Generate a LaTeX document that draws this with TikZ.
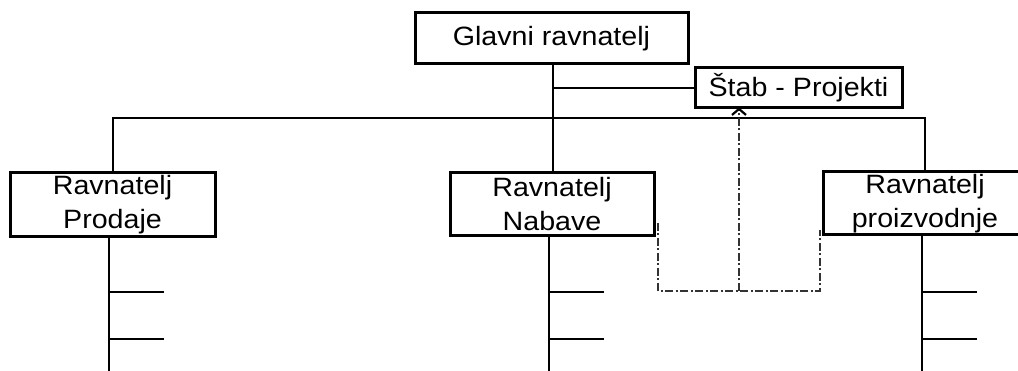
\documentclass[tikz,border=0pt]{standalone}
\usepackage{fontspec}
\setmainfont[FakeStretch=1.08]{Liberation Sans}
\usetikzlibrary{arrows.meta}
\begin{document}
\begin{tikzpicture}[x=1pt,y=-1pt,
  box/.style={draw,line width=3pt,rectangle,inner sep=0pt,align=center,
    font=\fontsize{26.5}{34}\selectfont},
  link/.style={line width=1.8pt},
  tick/.style={line width=2.8pt},
  staff/.style={line width=1.6pt,draw=black!80,
    dash pattern=on 8pt off 2.5pt on 2pt off 2.5pt}]
\useasboundingbox (0,0) rectangle (1018,371);
\clip (0,0) rectangle (1018,371);
\fill[white] (0,0) rectangle (1018,371);

% boxes
\node[box,minimum width=273pt,minimum height=51pt] (glavni) at (551.5,38.5) {Glavni ravnatelj};
\node[box,minimum width=207pt,minimum height=40pt] (stab) at (798.5,88) {Štab - Projekti};
\node[box,minimum width=205pt,minimum height=64pt] (prodaja) at (112.5,205) {Ravnatelj\\Prodaje};
\node[box,minimum width=204pt,minimum height=63pt] (nabava) at (552,204.5) {Ravnatelj\\Nabave};
\node[box,minimum width=204pt,minimum height=63pt] (proiz) at (925,203.5) {Ravnatelj\\proizvodnje};

% main hierarchy
\coordinate (hub) at (553,118);
\coordinate (lt) at (113,118);
\coordinate (rt) at (925,118);
\draw[link] (glavni.south -| hub) -- (nabava.north -| hub);
\draw[link] (553,88) -- (stab.west);
\draw[link] (prodaja.north -| lt) -- (lt) -- (rt) -- (proiz.north -| rt);

% lower levels with branches
\foreach \b/\x/\w in {prodaja/109/1.8pt, nabava/549/2.6pt, proiz/922/1.8pt}{
  \coordinate (\b-end) at (\x,371);
  \draw[line width=\w] (\b.south -| \b-end) -- (\b-end);
  \draw[tick] (\x,292) -- ++(55,0);
  \draw[tick] (\x,339) -- ++(55,0);
}

% staff link to the projects office
\coordinate (sl) at (658,223);
\coordinate (sr) at (820,230);
\coordinate (sm) at (739,291);
\draw[staff,line width=2.2pt] (sl) -- (658,291) -- (820,291) -- (sr);
\draw[staff,-{Straight Barb[length=6pt,width=14pt,line width=2.2pt,black]}]
  (sm) -- ([yshift=2pt]stab.south -| sm);
\end{tikzpicture}
\end{document}
